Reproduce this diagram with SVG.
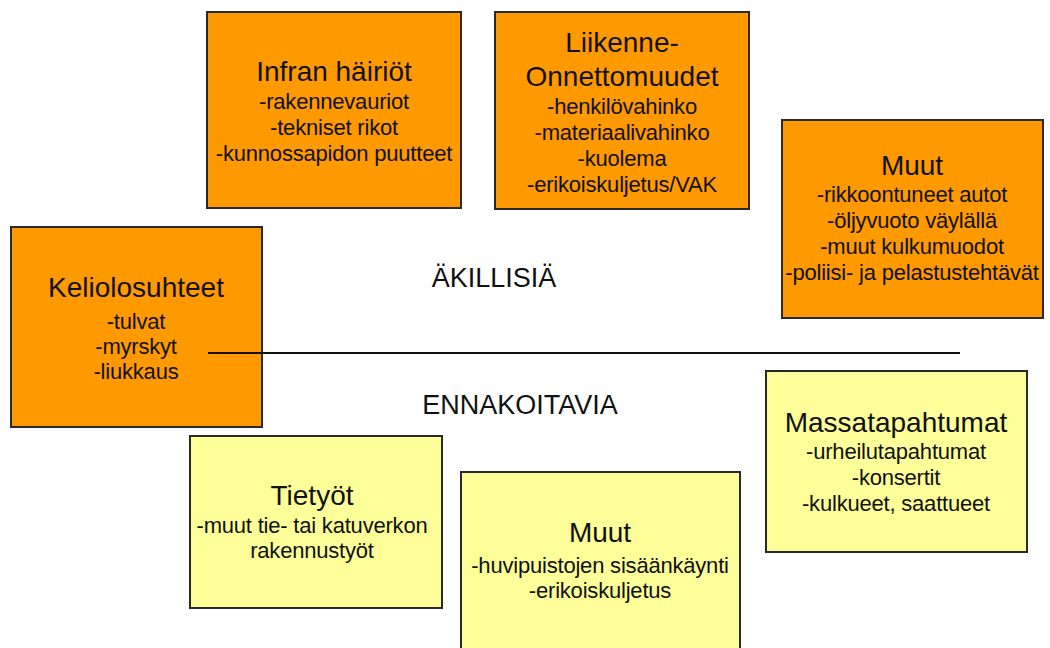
<svg xmlns="http://www.w3.org/2000/svg" width="1050" height="648" viewBox="0 0 1050 648">
<style>
.o{fill:#FF9900;stroke:#2a2a2a;stroke-width:2}
.y{fill:#FFFF99;stroke:#2a2a2a;stroke-width:2}
text{font-family:"Liberation Sans",Arial,sans-serif;fill:#111;text-anchor:middle}
.t{font-size:28px}
.i{font-size:22px;letter-spacing:-0.2px}
.l{font-size:27px}
</style>
<rect width="1050" height="648" fill="#fff"/>
<g id="infra">
<rect class="o" x="207" y="12" width="254" height="196"/>
<text class="t" x="334" y="81">Infran häiriöt</text>
<text class="i" x="334" y="109">-rakennevauriot</text>
<text class="i" x="334" y="135">-tekniset rikot</text>
<text class="i" x="334" y="161">-kunnossapidon puutteet</text>
</g>
<g id="liikenne">
<rect class="o" x="495" y="12" width="254" height="197"/>
<text class="t" x="622" y="52">Liikenne-</text>
<text class="t" x="622" y="86">Onnettomuudet</text>
<text class="i" x="622" y="114">-henkilövahinko</text>
<text class="i" x="622" y="140">-materiaalivahinko</text>
<text class="i" x="622" y="166">-kuolema</text>
<text class="i" x="622" y="192">-erikoiskuljetus/VAK</text>
</g>
<g id="muut1">
<rect class="o" x="782" y="120" width="261" height="198"/>
<text class="t" x="912" y="175">Muut</text>
<text class="i" x="912" y="202">-rikkoontuneet autot</text>
<text class="i" x="912" y="228">-öljyvuoto väylällä</text>
<text class="i" x="912" y="254">-muut kulkumuodot</text>
<text class="i" x="912" y="280">-poliisi- ja pelastustehtävät</text>
</g>
<g id="keli">
<rect class="o" x="11" y="227" width="251" height="200"/>
<text class="t" x="136" y="297">Keliolosuhteet</text>
<text class="i" x="136" y="329">-tulvat</text>
<text class="i" x="136" y="354">-myrskyt</text>
<text class="i" x="136" y="379">-liukkaus</text>
</g>
<g id="connectors">
<line x1="208" y1="353" x2="960" y2="353" stroke="#111" stroke-width="2"/>
</g>
<g id="labels">
<text class="l" x="494" y="287">ÄKILLISIÄ</text>
<text class="l" x="520" y="414">ENNAKOITAVIA</text>
</g>
<g id="tietyot">
<rect class="y" x="190" y="436" width="252" height="172"/>
<text class="t" x="312" y="505">Tietyöt</text>
<text class="i" x="312" y="533">-muut tie- tai katuverkon</text>
<text class="i" x="312" y="558">rakennustyöt</text>
</g>
<g id="muut2">
<rect class="y" x="461" y="472" width="279" height="190"/>
<text class="t" x="600" y="542">Muut</text>
<text class="i" x="600" y="573">-huvipuistojen sisäänkäynti</text>
<text class="i" x="600" y="598">-erikoiskuljetus</text>
</g>
<g id="massa">
<rect class="y" x="766" y="371" width="261" height="181"/>
<text class="t" x="896" y="432">Massatapahtumat</text>
<text class="i" x="896" y="459">-urheilutapahtumat</text>
<text class="i" x="896" y="485">-konsertit</text>
<text class="i" x="896" y="511">-kulkueet, saattueet</text>
</g>
</svg>
